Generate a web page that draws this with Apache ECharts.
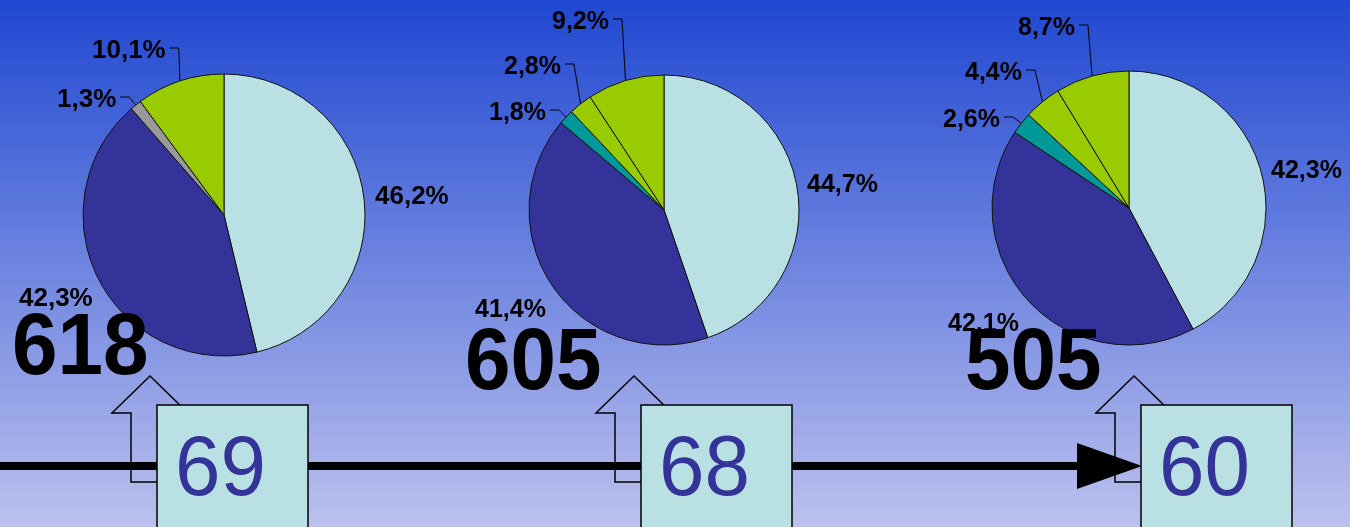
<!DOCTYPE html>
<html><head><meta charset="utf-8">
<script src="https://cdn.jsdelivr.net/npm/echarts@6/dist/echarts.min.js"></script>
<style>html,body{margin:0;padding:0;overflow:hidden}#c{width:1350px;height:527px}</style>
</head><body><div id="c"></div>
<script>
// ---- data ----
const categories = ['Catégorie 1', 'Catégorie 2', 'Catégorie 3', 'Catégorie 4', 'Catégorie 5', 'Catégorie 6'];
const pie1Cats = ['Catégorie 1', 'Catégorie 2', 'Catégorie 3', 'Catégorie 6'];
const pie1Values = [46.2, 42.3, 1.3, 10.1];
const pie2Cats = ['Catégorie 1', 'Catégorie 2', 'Catégorie 4', 'Catégorie 5', 'Catégorie 6'];
const pie2Values = [44.7, 41.4, 1.8, 2.8, 9.2];
const pie3Cats = ['Catégorie 1', 'Catégorie 2', 'Catégorie 4', 'Catégorie 5', 'Catégorie 6'];
const pie3Values = [42.3, 42.1, 2.6, 4.4, 8.7];
const totals = [618, 605, 505];
const boxValues = [69, 68, 60];

// ---- styles / layout ----
const catColors = {
  'Catégorie 1': '#B9E0E2', 'Catégorie 2': '#333399', 'Catégorie 3': '#999999',
  'Catégorie 4': '#009999', 'Catégorie 5': '#99CC00', 'Catégorie 6': '#99CC00'
};
const pies = [
  {cats: pie1Cats, vals: pie1Values, center: [224, 215], r: 141, fs: 26},
  {cats: pie2Cats, vals: pie2Values, center: [664, 210], r: 135, fs: 25},
  {cats: pie3Cats, vals: pie3Values, center: [1129, 208], r: 137, fs: 25}
];
const labelPos = [
  [[375, 197], [19, 299], [57, 100], [92, 51]],
  [[807, 185], [475, 310], [489, 113], [504, 67], [552, 22]],
  [[1271, 171], [948, 324], [943, 120], [965, 73], [1018, 28]]
];
const groupOffsets = [0, 484, 984];
const totalPos = [[12, 350], [465, 365], [965, 365]];
const FONT = '"Liberation Sans", Arial, sans-serif';

const fmt = v => v.toFixed(1).replace('.', ',') + '%';

const series = pies.map((p, i) => ({
  type: 'pie',
  center: p.center,
  radius: p.r,
  startAngle: 90,
  clockwise: true,
  avoidLabelOverlap: false,
  silent: true,
  animation: false,
  z: 2,
  itemStyle: {borderColor: '#111', borderWidth: 1},
  label: {
    show: true, position: 'outside', color: '#000', fontWeight: 'bold',
    fontSize: p.fs, fontFamily: FONT,
    formatter: prm => fmt(prm.value)
  },
  labelLine: {show: true, length: 10, length2: 10, lineStyle: {color: '#000', width: 1}},
  labelLayout: prm => {
    const pos = labelPos[i][prm.dataIndex];
    const res = {x: pos[0], y: pos[1], align: 'left', verticalAlign: 'middle'};
    if (prm.dataIndex >= 2 && prm.labelLinePoints) {
      const right = pos[0] + prm.labelRect.width;
      const ly = pos[1] - 3;
      res.labelLinePoints = [prm.labelLinePoints[0], [right + 13, ly], [right + 4, ly]];
    }
    return res;
  },
  data: p.vals.map((v, k) => ({
    name: p.cats[k], value: v,
    itemStyle: {color: catColors[p.cats[k]]},
    labelLine: {show: k >= 2}
  }))
}));

const graphic = [];
// timeline
graphic.push({type: 'line', z: 30, shape: {x1: 0, y1: 466, x2: 1082, y2: 466}, style: {stroke: '#000', lineWidth: 8}});
graphic.push({type: 'polygon', z: 30, shape: {points: [[1077, 443], [1142, 466], [1077, 489]]}, style: {fill: '#000'}});
groupOffsets.forEach((o, i) => {
  graphic.push({
    type: 'polygon', z: 40,
    shape: {points: [[150 + o, 376], [188 + o, 413], [169 + o, 413], [169 + o, 482], [131 + o, 482], [131 + o, 413], [112 + o, 413]]},
    style: {fill: 'none', stroke: '#000', lineWidth: 1.5}
  });
  graphic.push({
    type: 'rect', z: 50,
    shape: {x: 157 + o, y: 405, width: 151, height: 140},
    style: {fill: '#B9E0E2', stroke: '#000', lineWidth: 1.5}
  });
  graphic.push({
    type: 'text', z: 60, x: 175 + o, y: 471, scaleX: 0.95,
    style: {text: String(boxValues[i]), fill: '#333399', fontSize: 86, fontFamily: FONT, align: 'left', verticalAlign: 'middle'}
  });
  graphic.push({
    type: 'text', z: 100, x: totalPos[i][0], y: totalPos[i][1], scaleX: 0.93,
    style: {text: String(totals[i]), fill: '#000', fontSize: 88, fontWeight: 'bold', fontFamily: FONT, align: 'left', verticalAlign: 'middle'}
  });
});

const chart = echarts.init(document.getElementById('c'), null, {renderer: 'canvas'});
chart.setOption({
  animation: false,
  backgroundColor: {
    type: 'linear', x: 0, y: 0, x2: 0, y2: 1,
    colorStops: [{offset: 0, color: '#1F47D1'}, {offset: 1, color: '#BCC1EE'}]
  },
  series: series,
  graphic: graphic
});
</script>
</body></html>
